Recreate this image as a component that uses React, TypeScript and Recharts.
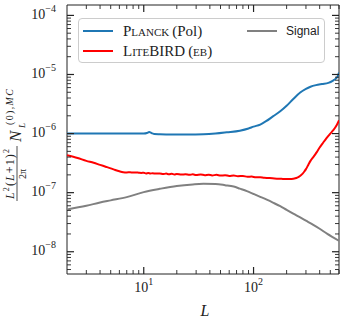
import React from 'react';
import { LineChart, Line, XAxis, YAxis, ReferenceArea, Legend } from 'recharts';

// ---- data ----
const planckL = [2, 4, 6, 8, 10, 10.7, 11.2, 11.8, 12.5, 14, 18, 25, 35, 45, 57, 75, 90, 100, 115, 130, 150, 175, 200, 230, 266, 300, 330, 370, 420, 480, 530, 560, 585, 600];
const planckN = [1.0e-6, 1.0e-6, 1.0e-6, 1.0e-6, 1.0e-6, 1.02e-6, 1.06e-6, 1.02e-6, 0.98e-6, 0.97e-6, 0.96e-6, 0.96e-6, 0.97e-6, 1.0e-6, 1.05e-6, 1.12e-6, 1.22e-6, 1.31e-6, 1.42e-6, 1.62e-6, 1.95e-6, 2.38e-6, 2.95e-6, 3.85e-6, 4.95e-6, 5.7e-6, 6.2e-6, 6.6e-6, 6.9e-6, 7.2e-6, 7.9e-6, 8.5e-6, 9.4e-6, 1.08e-5];

const litebirdL = [2, 2.5, 3, 3.5, 4, 4.5, 5, 5.5, 6, 6.5, 7, 7.5, 8, 8.5, 9, 9.5, 10, 10.5, 11, 11.5, 12, 13, 14, 15, 16, 17, 18, 19, 20, 22, 24, 26, 28, 30, 33, 36, 39, 42, 46, 50, 55, 60, 66, 72, 80, 88, 96, 105, 115, 125, 140, 155, 170, 185, 200, 215, 230, 240, 250, 260, 270, 280, 290, 300, 315, 330, 350, 375, 400, 430, 460, 500, 530, 560, 600];
const litebirdN = [4.3e-7, 3.85e-7, 3.45e-7, 3.2e-7, 2.95e-7, 2.75e-7, 2.58e-7, 2.42e-7, 2.3e-7, 2.22e-7, 2.2e-7, 2.21e-7, 2.19e-7, 2.2e-7, 2.18e-7, 2.16e-7, 2.17e-7, 2.12e-7, 2.15e-7, 2.11e-7, 2.13e-7, 2.1e-7, 2.12e-7, 2.06e-7, 2.1e-7, 2.05e-7, 2.08e-7, 2.03e-7, 2.07e-7, 2.02e-7, 2.05e-7, 2.0e-7, 2.04e-7, 1.99e-7, 2.03e-7, 1.98e-7, 2.01e-7, 1.96e-7, 2.0e-7, 1.95e-7, 1.97e-7, 1.92e-7, 1.95e-7, 1.9e-7, 1.91e-7, 1.86e-7, 1.87e-7, 1.82e-7, 1.83e-7, 1.78e-7, 1.77e-7, 1.74e-7, 1.72e-7, 1.71e-7, 1.7e-7, 1.7e-7, 1.72e-7, 1.75e-7, 1.8e-7, 1.87e-7, 1.97e-7, 2.1e-7, 2.28e-7, 2.5e-7, 2.95e-7, 3.45e-7, 4.0e-7, 4.8e-7, 5.8e-7, 7.0e-7, 8.3e-7, 1.0e-6, 1.13e-6, 1.3e-6, 1.68e-6];

const signalL = [2, 3, 4, 5, 7, 10, 14, 20, 28, 35, 45, 55, 66, 75, 87, 100, 115, 132, 150, 175, 200, 230, 266, 300, 350, 400, 470, 530, 600];
const signalN = [5.2e-8, 6.0e-8, 6.8e-8, 7.4e-8, 8.4e-8, 1.02e-7, 1.16e-7, 1.3e-7, 1.38e-7, 1.41e-7, 1.4e-7, 1.34e-7, 1.27e-7, 1.17e-7, 1.06e-7, 9.5e-8, 8.5e-8, 7.6e-8, 6.8e-8, 5.9e-8, 5.1e-8, 4.4e-8, 3.8e-8, 3.35e-8, 2.85e-8, 2.45e-8, 2.0e-8, 1.75e-8, 1.53e-8];

const xMajorTicks = [10, 100];
const xMinorTicks = [3, 4, 5, 6, 7, 8, 9, 20, 30, 40, 50, 60, 70, 80, 90, 200, 300, 400, 500, 600];
const yMajorTicks = [1e-8, 1e-7, 1e-6, 1e-5, 1e-4];
const yMinorTicks = [5e-9, 6e-9, 7e-9, 8e-9, 9e-9, 2e-8, 3e-8, 4e-8, 5e-8, 6e-8, 7e-8, 8e-8, 9e-8, 2e-7, 3e-7, 4e-7, 5e-7, 6e-7, 7e-7, 8e-7, 9e-7, 2e-6, 3e-6, 4e-6, 5e-6, 6e-6, 7e-6, 8e-6, 9e-6, 2e-5, 3e-5, 4e-5, 5e-5, 6e-5, 7e-5, 8e-5, 9e-5];

const xDomain = [2, 600];
const yDomain = [4.2e-9, 1.5e-4];

const seriesNames = ['Planck', 'LiteBIRD', 'Signal'];

const toRows = (ls: number[], vs: number[]) => ls.map((L, i) => ({ L, v: vs[i] }));
const planckData = toRows(planckL, planckN);
const litebirdData = toRows(litebirdL, litebirdN);
const signalData = toRows(signalL, signalN);

// ---- layout ----
const W = 344;
const H = 322;
const PLOT_LEFT = 67;
const PLOT_RIGHT = 339;
const PLOT_TOP = 5;
const PLOT_BOTTOM = 274;
const MAJOR_LEN = 7;
const MINOR_LEN = 4;
const TICK_COLOR = '#222';
const SERIF = '"Liberation Serif", "DejaVu Serif", serif';

const isMajor = (v: number) => Math.abs(Math.log10(v) - Math.round(Math.log10(v))) < 1e-6;
const expOf = (v: number) => Math.round(Math.log10(v));
const fmtExp = (e: number) => (e < 0 ? '\u2212' + Math.abs(e) : String(e));

const XTick = (props: any) => {
  const { x, payload } = props;
  const v = payload.value;
  const major = isMajor(v);
  const len = major ? MAJOR_LEN : MINOR_LEN;
  const sw = major ? 1.2 : 0.9;
  return (
    <g>
      <line x1={x} x2={x} y1={PLOT_BOTTOM} y2={PLOT_BOTTOM - len} stroke={TICK_COLOR} strokeWidth={sw} />
      <line x1={x} x2={x} y1={PLOT_TOP} y2={PLOT_TOP + len} stroke={TICK_COLOR} strokeWidth={sw} />
      {major && (
        <text x={x} y={292} textAnchor="middle" fontFamily={SERIF} fontSize={14} fill="#222">
          10<tspan dy={-7} fontSize={10}>{fmtExp(expOf(v))}</tspan>
        </text>
      )}
    </g>
  );
};

const YTick = (props: any) => {
  const { y, payload } = props;
  const v = payload.value;
  const major = isMajor(v);
  const len = major ? MAJOR_LEN : MINOR_LEN;
  const sw = major ? 1.2 : 0.9;
  return (
    <g>
      <line x1={PLOT_LEFT} x2={PLOT_LEFT + len} y1={y} y2={y} stroke={TICK_COLOR} strokeWidth={sw} />
      <line x1={PLOT_RIGHT} x2={PLOT_RIGHT - len} y1={y} y2={y} stroke={TICK_COLOR} strokeWidth={sw} />
      {major && (
        <text x={56} y={y + 3.5} textAnchor="end" fontFamily={SERIF} fontSize={14} fill="#222">
          10<tspan dy={-7} fontSize={10}>{fmtExp(expOf(v))}</tspan>
        </text>
      )}
    </g>
  );
};

const XLabel = (props: any) => {
  const vb = props.viewBox || { x: PLOT_LEFT, width: PLOT_RIGHT - PLOT_LEFT };
  return (
    <text x={vb.x + vb.width / 2 + 2} y={316} textAnchor="middle" fontFamily={SERIF} fontStyle="italic" fontSize={16} fill="#222">
      L
    </text>
  );
};

const YLabel = () => (
  <g transform="translate(17,201) rotate(-90)" fontFamily={SERIF} fill="#222">
    <text x={27} y={-3.5} fontSize={12} textAnchor="middle" textLength={50} lengthAdjust="spacing">
      <tspan fontStyle="italic">L</tspan>
      <tspan fontSize={8} dy={-4.5}>2</tspan>
      <tspan dy={4.5}>(</tspan>
      <tspan fontStyle="italic">L</tspan>
      <tspan>+1)</tspan>
      <tspan fontSize={8} dy={-4.5}>2</tspan>
    </text>
    <line x1={0} x2={55} y1={0} y2={0} stroke="#222" strokeWidth={0.8} />
    <text x={27} y={8.5} fontSize={10} textAnchor="middle">2π</text>
    <text x={59} y={4} fontSize={17} fontStyle="italic">N</text>
    <text x={73} y={8} fontSize={9} fontStyle="italic">L</text>
    <text x={76} y={-4} fontSize={10} textLength={36} lengthAdjust="spacing">
      (0),<tspan fontStyle="italic">MC</tspan>
    </text>
  </g>
);

const LegendBox = () => {
  const line = (top: number, left: number, color: string) => (
    <div style={{ position: 'absolute', left, top, width: 30, height: 2, background: color }} />
  );
  const txt: React.CSSProperties = { position: 'absolute', fontFamily: SERIF, fontSize: 15, lineHeight: '18px', color: '#222', whiteSpace: 'nowrap' };
  return (
    <div style={{ position: 'relative', width: 247, height: 45, boxSizing: 'border-box', border: '1px solid #cccccc', borderRadius: 4, background: 'rgba(255,255,255,0.8)' }}>
      {line(10.5, 3.5, '#1f77b4')}
      <div style={{ ...txt, left: 44, top: 2.5 }}>
        <span style={{ fontVariant: 'small-caps' }}>{seriesNames[0]}</span>{'\u2009'}(Pol)
      </div>
      {line(30.5, 3.5, '#ff0000')}
      <div style={{ ...txt, left: 44, top: 22.5, fontVariant: 'small-caps' }}>{seriesNames[1]}{'\u2009'}(eb)</div>
      {line(10.5, 167.5, '#808080')}
      <div style={{ ...txt, left: 207, top: 3, fontFamily: '"Liberation Sans", Arial, sans-serif', fontSize: 12 }}>{seriesNames[2]}</div>
    </div>
  );
};

export default function App() {
  return (
    <div style={{ position: 'absolute', left: 0, top: 0, width: W, height: H, background: '#fff' }}>
      <LineChart width={W} height={H} margin={{ top: PLOT_TOP, right: W - PLOT_RIGHT, bottom: 0, left: 0 }}>
        <XAxis
          dataKey="L"
          type="number"
          scale="log"
          domain={xDomain}
          allowDataOverflow
          ticks={[...xMinorTicks, ...xMajorTicks]}
          interval={0}
          tick={<XTick />}
          tickLine={false}
          axisLine={false}
          height={H - PLOT_BOTTOM}
          label={{ content: <XLabel /> }}
        />
        <YAxis
          type="number"
          scale="log"
          domain={yDomain}
          allowDataOverflow
          ticks={[...yMinorTicks, ...yMajorTicks]}
          interval={0}
          tick={<YTick />}
          tickLine={false}
          axisLine={false}
          width={PLOT_LEFT}
          label={{ content: <YLabel /> }}
        />
        <ReferenceArea x1={xDomain[0]} x2={xDomain[1]} y1={yDomain[0]} y2={yDomain[1]} fill="none" fillOpacity={0} stroke="#222" strokeWidth={1} ifOverflow="visible" />
        <Line data={signalData} dataKey="v" name={seriesNames[2]} stroke="#808080" strokeWidth={2} dot={false} type="monotone" isAnimationActive={false} />
        <Line data={litebirdData} dataKey="v" name={seriesNames[1]} stroke="#ff0000" strokeWidth={2} dot={false} type="monotone" isAnimationActive={false} />
        <Line data={planckData} dataKey="v" name={seriesNames[0]} stroke="#1f77b4" strokeWidth={2} dot={false} type="monotone" isAnimationActive={false} />
        <Legend layout="vertical" align="center" verticalAlign="middle" content={<LegendBox />} wrapperStyle={{ left: 78, top: 18, width: 247, height: 45 }} />
      </LineChart>
    </div>
  );
}
